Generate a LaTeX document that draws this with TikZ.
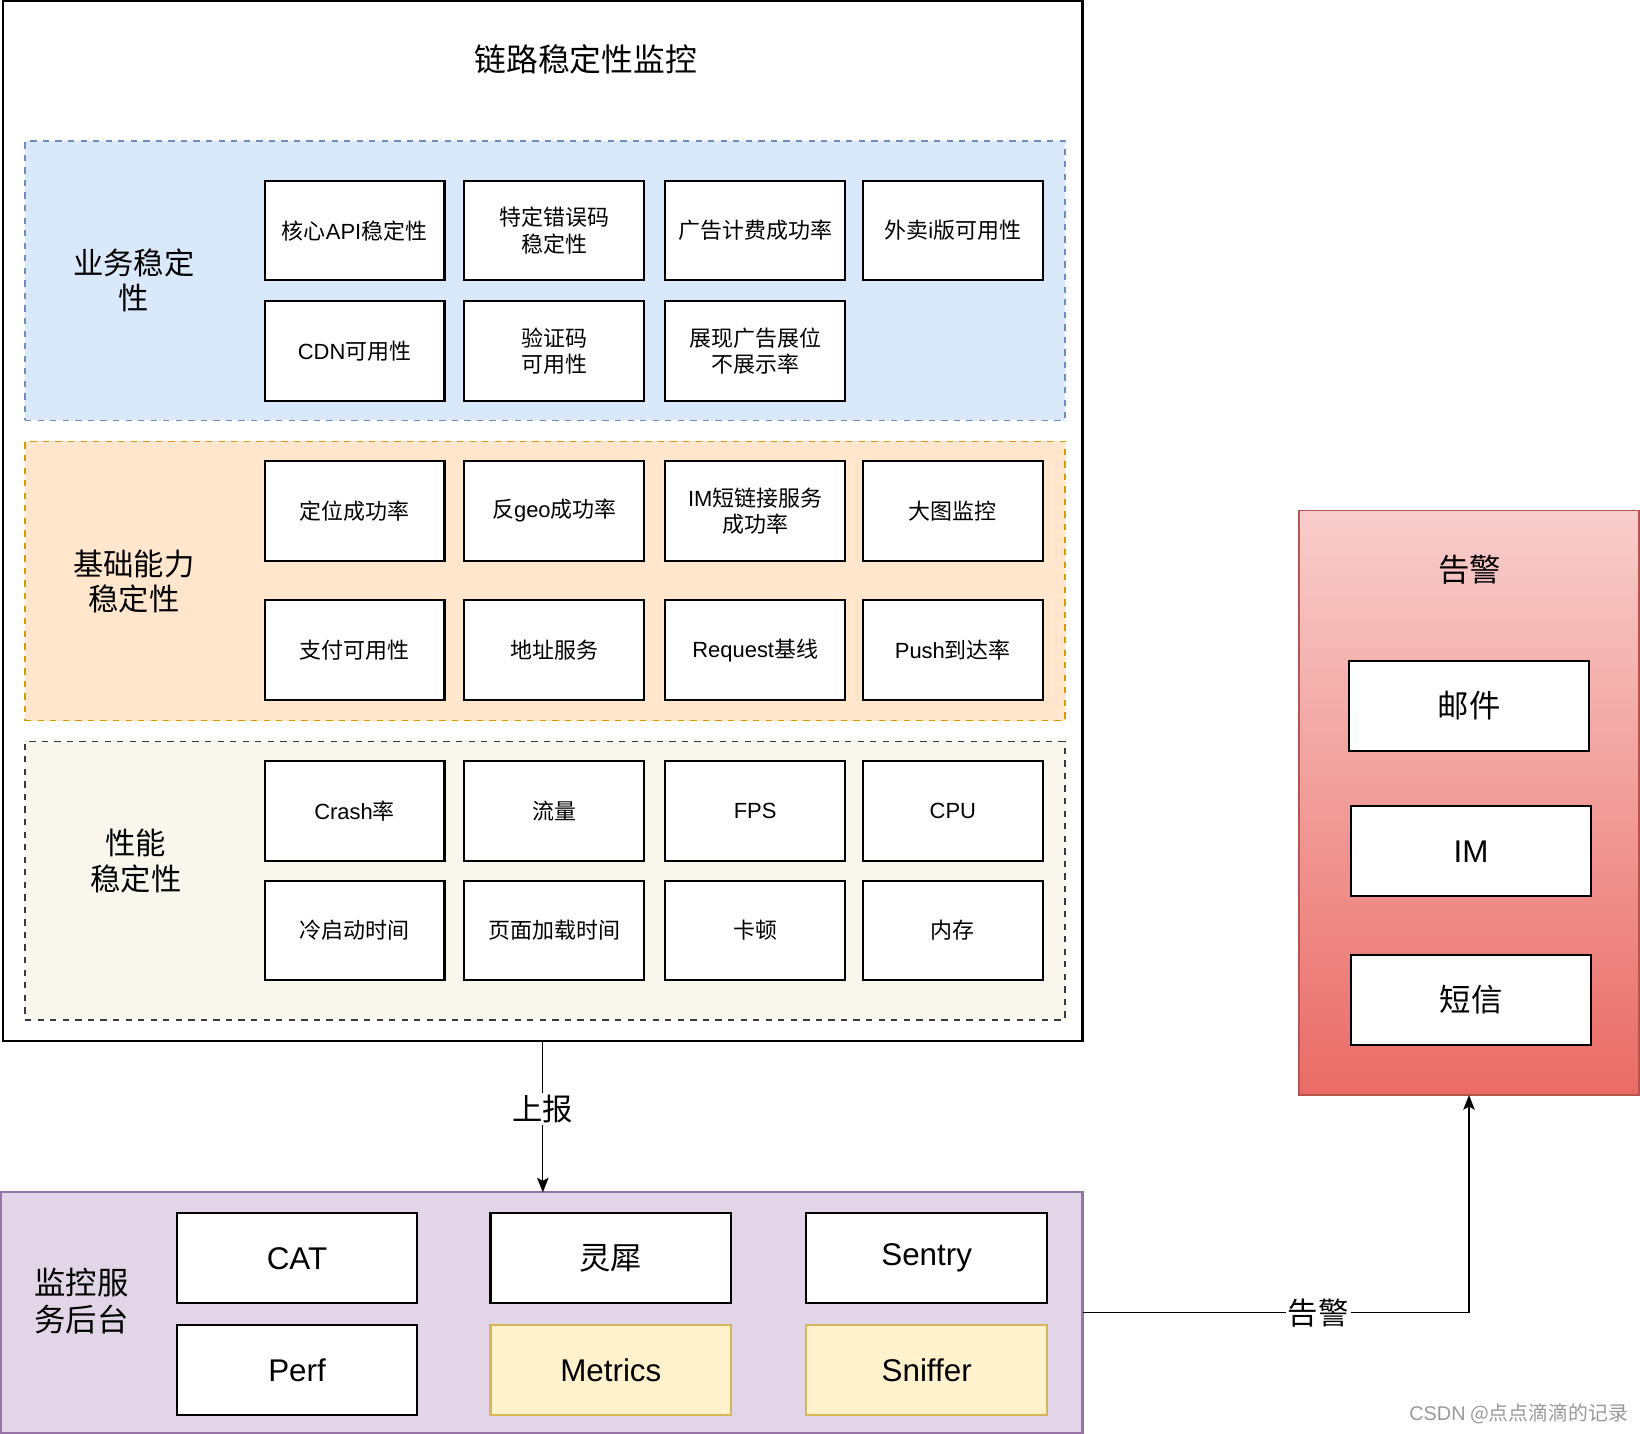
\documentclass[tikz,border=0pt]{standalone}
\usepackage{fontspec}
\setmainfont{Noto Sans CJK SC}
\newfontfamily\latinfont{Liberation Sans}
\newfontfamily\cjkfont{Noto Sans CJK SC}
\newXeTeXintercharclass\latincls
\count255=`A
\loop\XeTeXcharclass\count255=\latincls\advance\count255 by 1 \ifnum\count255<`[\repeat
\count255=`a
\loop\XeTeXcharclass\count255=\latincls\advance\count255 by 1 \ifnum\count255<`\{\repeat
\XeTeXinterchartoks 0 \latincls = {\latinfont}
\XeTeXinterchartoks 4095 \latincls = {\latinfont}
\XeTeXinterchartoks \latincls 0 = {\cjkfont}
\XeTeXinterchartoks \latincls 4095 = {\cjkfont}
\usetikzlibrary{arrows.meta}
\definecolor{bluefill}{HTML}{DAE8FC}
\definecolor{bluedraw}{HTML}{6C8EBF}
\definecolor{orfill}{HTML}{FFE6CC}
\definecolor{ordraw}{HTML}{D79B00}
\definecolor{grfill}{HTML}{F9F7ED}
\definecolor{grdraw}{HTML}{36393D}
\definecolor{pufill}{HTML}{E1D5E7}
\definecolor{pudraw}{HTML}{9673A6}
\definecolor{yefill}{HTML}{FFF2CC}
\definecolor{yedraw}{HTML}{D6B656}
\definecolor{redtop}{HTML}{F8CECC}
\definecolor{redbot}{HTML}{EA6B66}
\definecolor{reddraw}{HTML}{B85450}
\tikzset{
  cell/.style={draw=black, line width=1pt, fill=white, minimum width=86pt, minimum height=47.5pt,
    inner sep=0pt, outer sep=0pt, align=center, font=\fontsize{10.5}{12.5}\selectfont},
  bigcell/.style={draw=black, line width=1pt, fill=white, minimum width=115pt, minimum height=43pt,
    inner sep=0pt, outer sep=0pt, align=center, font=\fontsize{15}{18}\selectfont},
  region/.style={dashed, line width=0.8pt, minimum width=497pt, minimum height=133.5pt, inner sep=0pt, outer sep=0pt},
  biglabel/.style={align=center, font=\fontsize{14.5}{17}\selectfont, inner sep=0pt},
  arr/.style={line width=0.6pt, -{Stealth[length=7pt,width=5.5pt,inset=1.5pt]}},
  lbl/.style={fill=white, inner sep=1pt, font=\fontsize{14.5}{17}\selectfont},
}
\begin{document}
\XeTeXinterchartokenstate=1
\begin{tikzpicture}[x=0.5pt,y=-0.5pt]
\useasboundingbox (0,0) rectangle (1568,1371);
% main box
\node[draw=black, line width=1pt, minimum width=516pt, minimum height=497pt, inner sep=0pt, outer sep=0pt] (main) at (519,498) {};
\node[font=\fontsize{15.2}{18}\selectfont] (title) at (560,57) {链路稳定性监控};
% regions
\node[region, fill=bluefill, draw=bluedraw] (rb) at (521,268.5) {};
\node[region, fill=orfill, draw=ordraw] (ro) at (521,555.5) {};
\node[region, fill=grfill, draw=grdraw, minimum height=133pt] (rg) at (521,842) {};
\node[biglabel] (lb) at (128,268) {业务稳定\\性};
\node[biglabel] (lo) at (128,556) {基础能力\\稳定性};
\node[biglabel] (lg) at (130,823) {性能\\稳定性};
% blue cells
\node[cell] (b11) at (339,220.5) {核心API稳定性};
\node[cell] (b12) at (530,220.5) {特定错误码\\稳定性};
\node[cell] (b13) at (722,220.5) {广告计费成功率};
\node[cell] (b14) at (911,220.5) {外卖i版可用性};
\node[cell] (b21) at (339,335.5) {CDN可用性};
\node[cell] (b22) at (530,335.5) {验证码\\可用性};
\node[cell] (b23) at (722,335.5) {展现广告展位\\不展示率};
% orange cells
\node[cell] (o11) at (339,488.5) {定位成功率};
\node[cell] (o12) at (530,488.5) {反geo成功率};
\node[cell] (o13) at (722,488.5) {IM短链接服务\\成功率};
\node[cell] (o14) at (911,488.5) {大图监控};
\node[cell] (o21) at (339,621.5) {支付可用性};
\node[cell] (o22) at (530,621.5) {地址服务};
\node[cell] (o23) at (722,621.5) {Request基线};
\node[cell] (o24) at (911,621.5) {Push到达率};
% gray cells
\node[cell] (g11) at (339,775.5) {Crash率};
\node[cell] (g12) at (530,775.5) {流量};
\node[cell] (g13) at (722,775.5) {FPS};
\node[cell] (g14) at (911,775.5) {CPU};
\node[cell] (g21) at (339,889.5) {冷启动时间};
\node[cell] (g22) at (530,889.5) {页面加载时间};
\node[cell] (g23) at (722,889.5) {卡顿};
\node[cell] (g24) at (911,889.5) {内存};
% purple backend
\node[draw=pudraw, fill=pufill, line width=1pt, minimum width=517pt, minimum height=115pt, inner sep=0pt, outer sep=0pt] (pu) at (518,1255) {};
\node[biglabel, font=\fontsize{15}{18}\selectfont] (lp) at (78,1244) {监控服\\务后台};
\node[bigcell] (cat) at (284,1203) {CAT};
\node[bigcell] (lx) at (584,1203) {灵犀};
\node[bigcell] (sen) at (886,1203) {Sentry};
\node[bigcell] (perf) at (284,1310) {Perf};
\node[bigcell, fill=yefill, draw=yedraw] (met) at (584,1310) {Metrics};
\node[bigcell, fill=yefill, draw=yedraw] (sni) at (886,1310) {Sniffer};
% red alarm
\node[draw=reddraw, top color=redtop, bottom color=redbot, line width=0.8pt, minimum width=162.5pt, minimum height=279.5pt, inner sep=0pt, outer sep=0pt] (red) at (1404.5,767.5) {};
\node[biglabel, font=\fontsize{15}{18}\selectfont] (lr) at (1405,545) {告警};
\node[bigcell, minimum width=114.5pt] (mail) at (1404.5,675) {邮件};
\node[bigcell, minimum width=114.5pt] (im) at (1406.5,814) {IM};
\node[bigcell, minimum width=114.5pt] (sms) at (1406.5,956) {短信};
% connectors
\draw[arr] (main.south) -- node[lbl, pos=0.45] (up) {上报} (main.south |- pu.north);
\draw[arr] (pu.east) -- node[lbl, pos=0.61] (al) {告警} (pu.east -| red.south) -- (red.south);
% watermark
\node[text=gray!80, font=\fontsize{9.5}{11}\selectfont, inner sep=0pt] (wm) at (1452,1352) {CSDN @{\cjkfont 点点滴滴的记录}};
\end{tikzpicture}
\end{document}
